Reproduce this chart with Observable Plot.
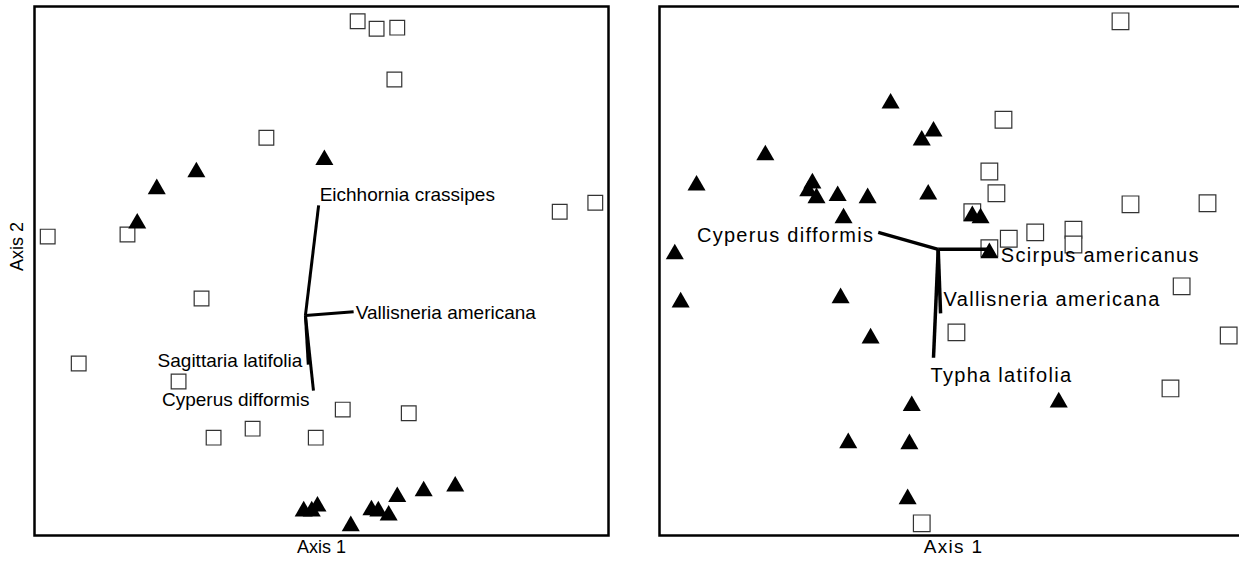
<!DOCTYPE html>
<html>
<head>
<meta charset="utf-8">
<script src="https://cdn.jsdelivr.net/npm/d3@7"></script>
<script src="https://cdn.jsdelivr.net/npm/@observablehq/plot@0.6"></script>
<style>
  html, body { margin: 0; padding: 0; background: #fff; overflow: hidden; }
  #row { display: flex; width: 1247px; }
  #row svg { display: block; }
</style>
</head>
<body>
<div id="row"></div>
<script>
// Ordination scores (Axis 1, Axis 2), scaled 0–100 across each plot window.

// Left ordination: sites of the first group (open squares)
const leftSitesA = [
  [56.3, 97.2], [59.6, 95.8], [63.2, 96.0], [62.7, 86.2], [40.4, 75.2],
  [91.5, 61.2], [97.7, 62.9], [2.3, 56.5], [16.2, 56.9], [29.1, 44.8],
  [7.7, 32.5], [25.1, 29.1], [31.2, 18.5], [38.0, 20.2], [49.0, 18.5],
  [53.7, 23.8], [65.2, 23.1]
];
// Left ordination: sites of the second group (filled triangles)
const leftSitesB = [
  [17.9, 59.0], [21.3, 65.5], [28.2, 68.7], [50.5, 71.0], [46.9, 4.6],
  [48.3, 4.6], [49.3, 5.5], [55.1, 1.8], [58.7, 4.8], [59.9, 4.6],
  [61.7, 3.8], [63.2, 7.3], [67.8, 8.4], [73.3, 9.3]
];
// Left biplot: species vectors from a common origin
const leftOrigin = [47.2, 41.6];
const leftSpecies = ["Eichhornia crassipes", "Vallisneria americana", "Sagittaria latifolia", "Cyperus difformis"];
const leftEnds = [[49.5, 62.4], [55.6, 42.3], [47.7, 32.3], [48.6, 27.4]];

// Right ordination: sites of the first group (open squares)
const rightSitesA = [
  [78.4, 97.2], [58.5, 78.6], [56.1, 68.8], [57.3, 64.7], [80.1, 62.6],
  [93.2, 62.8], [53.2, 61.1], [59.4, 56.1], [63.9, 57.3], [70.4, 57.8],
  [70.4, 55.0], [56.1, 54.3], [88.8, 47.1], [50.5, 38.4], [96.8, 37.8],
  [86.9, 27.8], [44.6, 2.3]
];
// Right ordination: sites of the second group (filled triangles)
const rightSitesB = [
  [39.3, 81.7], [46.6, 76.4], [44.6, 74.7], [18.0, 71.9], [6.3, 66.2],
  [26.0, 66.6], [25.3, 65.1], [26.7, 63.8], [30.3, 64.2], [35.4, 63.8],
  [45.7, 64.5], [31.3, 60.0], [2.6, 53.2], [3.6, 44.1], [30.8, 44.9],
  [35.9, 37.3], [42.9, 24.5], [32.1, 17.5], [42.5, 17.3], [42.2, 6.9],
  [53.2, 60.4], [54.6, 60.0], [56.1, 53.4], [67.9, 25.2]
];
// Right biplot: species vectors from a common origin
const rightOrigin = [47.4, 54.1];
const rightSpecies = ["Cyperus difformis", "Scirpus americanus", "Vallisneria americana", "Typha latifolia"];
const rightEnds = [[37.2, 57.3], [56.0, 54.1], [47.8, 42.0], [46.6, 33.6]];

const axisTitleX = "Axis 1";
const axisTitleY = "Axis 2";

const FONT = "Liberation Sans, Arial, Helvetica, sans-serif";

// Where each species name sits relative to the tip of its vector
const leftPlacement = {
  "Eichhornia crassipes": {textAnchor: "start", dx: 1, dy: -10},
  "Vallisneria americana": {textAnchor: "start", dx: 2, dy: 1},
  "Sagittaria latifolia": {textAnchor: "end", dx: -6, dy: -4},
  "Cyperus difformis": {textAnchor: "end", dx: -4, dy: 9}
};
const rightPlacement = {
  "Cyperus difformis": {textAnchor: "end", dx: -4, dy: 3},
  "Scirpus americanus": {textAnchor: "start", dx: 12, dy: 6},
  "Vallisneria americana": {textAnchor: "start", dx: 3, dy: -14},
  "Typha latifolia": {textAnchor: "start", dx: -3, dy: 18}
};

function ordination(o) {
  const vectors = o.species.map((name, i) => ({
    name, x1: o.origin[0], y1: o.origin[1], x2: o.ends[i][0], y2: o.ends[i][1]
  }));
  const labels = vectors.map(v => Plot.text([v], {
    x: "x2", y: "y2", text: "name",
    fontFamily: FONT, fontSize: o.labelSize, fill: "black",
    ...o.placement[v.name]
  }));
  const marks = [
    Plot.dot(o.sitesA, {
      x: d => d[0], y: d => d[1], symbol: "square", r: o.squareR,
      fill: "white", stroke: "#333", strokeWidth: 1.2
    }),
    Plot.dot(o.sitesB, {
      x: d => d[0], y: d => d[1], symbol: "triangle", r: 6.7,
      fill: "black", stroke: "none"
    }),
    Plot.link(vectors, {
      x1: "x1", y1: "y1", x2: "x2", y2: "y2",
      stroke: "black", strokeWidth: o.vectorWidth, strokeLinecap: "butt"
    }),
    ...labels,
    Plot.frame({stroke: "black", strokeWidth: 2.5}),
    Plot.text([axisTitleX], {
      text: d => d, frameAnchor: "bottom", dy: 17,
      fontFamily: FONT, fontSize: o.axisSize, fill: "black"
    })
  ];
  if (o.showY) {
    marks.push(Plot.text([axisTitleY], {
      text: d => d, frameAnchor: "left", rotate: -90, dx: -17,
      fontFamily: FONT, fontSize: o.axisSize, fill: "black"
    }));
  }
  return Plot.plot({
    width: o.width,
    height: 564,
    marginLeft: o.marginLeft,
    marginRight: o.marginRight,
    marginTop: 6,
    marginBottom: 29,
    x: {domain: [0, 100], axis: null},
    y: {domain: [0, 100], axis: null},
    style: {background: "white", overflow: "visible", letterSpacing: o.spacing},
    marks
  });
}

const row = document.getElementById("row");
row.append(ordination({
  width: 640, marginLeft: 34, marginRight: 32,
  sitesA: leftSitesA, sitesB: leftSitesB,
  origin: leftOrigin, species: leftSpecies, ends: leftEnds,
  placement: leftPlacement, labelSize: 19, axisSize: 18,
  squareR: 8.3, vectorWidth: 3, spacing: "0px", showY: true
}));
row.append(ordination({
  width: 607, marginLeft: 19, marginRight: 0,
  sitesA: rightSitesA, sitesB: rightSitesB,
  origin: rightOrigin, species: rightSpecies, ends: rightEnds,
  placement: rightPlacement, labelSize: 20, axisSize: 19,
  squareR: 9.4, vectorWidth: 3.5, spacing: "1.3px", showY: false
}));
</script>
</body>
</html>
